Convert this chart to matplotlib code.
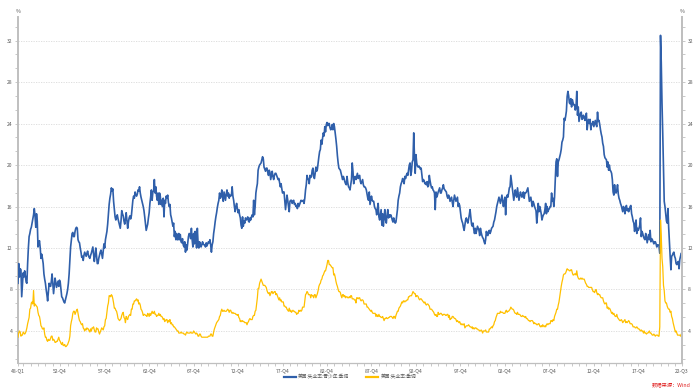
import numpy as np
import matplotlib
matplotlib.use("Agg")
import matplotlib.pyplot as plt
from matplotlib.ticker import MultipleLocator, FixedLocator
from matplotlib.lines import Line2D

plt.rcParams['font.family'] = ['Noto Sans CJK SC', 'DejaVu Sans']

# monthly data, 1948-01 .. 2022-09
start_year = 1948
series_names = ['美国:失业率:青少年:季调', '美国:失业率:季调']

teen_rate = [
    8.6, 10.5, 9.2, 10.0, 9.9, 7.3, 8.4, 9.6, 9.2, 9.8, 9.3, 8.7,          # 1948
    8.6, 10.5, 12.0, 13.1, 13.4, 13.8, 14.0, 14.4, 14.8, 15.2, 15.8, 15.1,  # 1949
    14.0, 15.3, 14.6, 12.1, 12.5, 12.7, 12.0, 11.0, 11.4, 11.0, 10.5, 9.5,  # 1950
    9.0, 8.6, 8.0, 7.5, 6.9, 7.8, 8.6, 8.4, 8.3, 8.8, 9.5, 8.5,            # 1951
    7.6, 8.4, 9.1, 8.7, 8.2, 8.5, 8.8, 8.3, 8.9, 8.7, 8.0, 7.3,            # 1952
    7.2, 7.0, 6.8, 6.7, 7.0, 7.3, 7.6, 8.0, 8.6, 9.5, 10.8, 12.1,          # 1953
    12.8, 13.4, 13.5, 13.1, 13.1, 13.6, 13.9, 14.0, 13.9, 12.8, 12.6, 12.5, # 1954
    12.0, 11.6, 11.1, 11.2, 10.8, 11.3, 11.6, 11.4, 11.2, 11.5, 11.7, 11.3, # 1955
    11.1, 11.0, 11.3, 11.5, 11.8, 12.1, 11.4, 10.7, 11.3, 12.0, 11.2, 10.5, # 1956
    10.5, 11.0, 11.3, 11.6, 11.8, 11.4, 11.0, 11.7, 12.4, 12.0, 12.8, 13.2, # 1957
    13.6, 14.3, 15.3, 16.2, 16.8, 17.2, 17.8, 17.5, 17.7, 16.5, 15.7, 15.0, # 1958
    14.7, 15.0, 15.2, 14.8, 14.5, 14.2, 13.9, 14.6, 15.6, 15.3, 15.1, 14.6, # 1959
    14.3, 14.8, 15.4, 14.6, 13.9, 14.5, 14.9, 15.1, 14.8, 15.1, 15.9, 16.6, # 1960
    17.0, 16.8, 17.4, 17.1, 17.0, 17.2, 17.6, 17.5, 17.9, 17.3, 16.9, 16.6, # 1961
    16.3, 16.0, 15.6, 15.0, 14.3, 13.7, 14.0, 14.3, 14.9, 15.4, 16.3, 16.9, # 1962
    17.6, 16.6, 17.4, 17.5, 18.6, 17.3, 17.9, 17.0, 16.6, 17.3, 16.2, 17.3, # 1963
    17.0, 16.2, 16.6, 16.0, 16.8, 15.0, 16.6, 16.3, 17.0, 16.8, 17.1, 16.4, # 1964
    16.0, 16.2, 15.2, 14.9, 14.5, 14.1, 14.4, 13.1, 13.6, 12.8, 13.4, 12.8, # 1965
    12.8, 13.4, 12.8, 13.3, 12.6, 12.5, 12.9, 12.3, 12.1, 12.6, 11.6, 12.3, # 1966
    11.8, 12.5, 13.1, 13.4, 13.3, 12.9, 13.9, 12.8, 12.1, 13.4, 12.4, 13.6, # 1967
    12.9, 12.0, 13.9, 12.5, 12.0, 12.6, 12.4, 12.1, 12.3, 12.6, 12.4, 12.3, # 1968
    12.3, 12.1, 12.5, 12.2, 12.4, 12.6, 12.5, 12.8, 12.3, 11.6, 12.3, 12.6, # 1969
    13.4, 13.9, 14.5, 15.0, 15.4, 15.9, 16.3, 16.6, 17.3, 16.8, 17.0, 17.6, # 1970
    16.9, 16.5, 17.4, 17.0, 16.6, 17.2, 17.6, 17.0, 17.3, 16.8, 17.1, 17.0, # 1971
    17.1, 17.9, 17.0, 16.6, 16.0, 15.5, 16.0, 16.3, 15.8, 15.4, 15.7, 15.2, # 1972
    14.9, 14.2, 13.9, 15.0, 14.1, 14.6, 14.4, 14.9, 14.7, 14.8, 15.0, 14.6, # 1973
    14.5, 14.9, 14.7, 15.0, 15.2, 15.0, 16.6, 15.2, 16.0, 17.3, 17.8, 18.2, # 1974
    19.5, 19.8, 20.0, 20.1, 20.2, 20.5, 20.8, 20.6, 19.8, 19.6, 19.4, 19.7, # 1975
    19.7, 19.3, 19.0, 19.5, 19.3, 18.6, 19.0, 19.4, 18.9, 18.6, 19.0, 19.2, # 1976
    19.2, 19.0, 18.8, 18.6, 18.7, 18.3, 17.9, 18.2, 17.7, 17.3, 17.4, 17.4, # 1977
    16.6, 15.7, 16.4, 17.1, 16.6, 16.0, 15.5, 16.5, 16.6, 16.6, 16.3, 16.5, # 1978
    16.6, 16.2, 16.3, 16.0, 16.1, 15.8, 16.3, 16.0, 16.2, 16.4, 16.6, 16.5, # 1979
    16.5, 16.6, 16.3, 16.8, 17.6, 18.1, 19.0, 18.7, 18.6, 18.2, 19.0, 18.8, # 1980
    18.9, 19.5, 19.7, 18.9, 18.7, 19.2, 19.8, 19.4, 19.6, 20.2, 20.8, 21.3, # 1981
    21.5, 22.4, 22.0, 22.6, 23.1, 22.8, 23.7, 23.2, 23.9, 24.1, 23.8, 24.0, # 1982
    24.0, 23.6, 23.4, 23.5, 23.9, 23.4, 24.0, 23.7, 23.1, 22.5, 21.8, 20.9, # 1983
    20.2, 19.7, 19.6, 19.5, 19.2, 18.9, 18.6, 18.9, 18.7, 18.4, 18.2, 18.1, # 1984
    18.9, 18.3, 17.9, 17.8, 17.6, 18.1, 18.6, 20.2, 19.4, 18.2, 18.7, 18.9, # 1985
    18.6, 18.9, 19.2, 18.7, 18.9, 19.0, 18.4, 18.2, 18.4, 18.6, 18.1, 17.9, # 1986
    17.9, 17.8, 17.6, 17.2, 16.8, 16.6, 17.4, 16.2, 16.6, 17.0, 16.6, 16.5, # 1987
    16.5, 16.0, 15.8, 15.7, 15.2, 15.8, 16.3, 15.0, 14.7, 15.2, 15.7, 14.2, # 1988
    15.3, 14.1, 15.0, 15.7, 14.7, 14.4, 15.2, 15.7, 14.9, 15.2, 15.0, 15.2, # 1989
    15.0, 14.7, 14.5, 14.9, 14.6, 14.4, 14.5, 15.1, 15.7, 16.6, 17.0, 17.3, # 1990
    17.9, 18.2, 18.4, 18.7, 18.5, 18.2, 18.9, 18.7, 19.0, 19.2, 19.0, 19.5, # 1991
    20.0, 20.2, 19.0, 19.4, 20.3, 20.5, 23.1, 20.8, 19.2, 21.0, 20.2, 19.9, # 1992
    19.8, 19.9, 19.8, 19.6, 19.7, 19.0, 18.4, 18.6, 18.5, 18.2, 18.3, 18.1, # 1993
    18.4, 17.9, 18.0, 19.0, 18.5, 18.1, 17.8, 17.9, 17.6, 17.5, 17.3, 15.7, # 1994
    17.4, 16.9, 17.1, 17.4, 17.6, 17.8, 17.3, 17.3, 17.6, 17.8, 18.1, 17.7, # 1995
    17.6, 17.5, 17.4, 17.0, 16.8, 17.1, 16.9, 16.5, 16.7, 16.9, 16.4, 16.0, # 1996
    16.6, 17.1, 16.8, 16.5, 16.7, 16.9, 16.0, 16.3, 16.1, 15.5, 14.9, 14.6, # 1997
    14.4, 14.0, 13.7, 14.2, 14.7, 14.9, 14.6, 14.4, 14.8, 15.2, 15.7, 15.0, # 1998
    14.3, 14.1, 14.4, 13.8, 13.4, 13.9, 13.4, 13.7, 14.1, 13.9, 13.7, 13.2, # 1999
    13.9, 13.5, 13.2, 13.0, 12.9, 12.6, 12.4, 12.8, 13.6, 13.3, 13.2, 13.6, # 2000
    13.7, 13.4, 13.6, 13.9, 14.0, 14.1, 14.5, 14.7, 15.1, 15.5, 16.0, 16.3, # 2001
    16.6, 16.9, 16.6, 16.3, 16.7, 17.1, 16.5, 16.0, 16.5, 16.9, 15.2, 16.8, # 2002
    17.1, 16.9, 17.3, 17.8, 17.9, 19.0, 18.4, 17.8, 17.2, 16.6, 17.1, 17.6, # 2003
    17.1, 16.9, 17.8, 17.2, 16.6, 17.0, 17.4, 17.1, 16.9, 17.2, 17.4, 16.8, # 2004
    17.3, 17.3, 17.4, 17.6, 17.8, 17.1, 16.5, 16.7, 16.9, 16.4, 16.0, 16.5, # 2005
    16.3, 16.0, 15.8, 15.6, 14.4, 15.2, 16.3, 15.5, 16.0, 15.7, 15.3, 14.7, # 2006
    15.0, 15.2, 15.3, 15.7, 16.3, 15.3, 16.0, 15.5, 15.7, 15.8, 16.0, 16.0, # 2007
    17.3, 16.5, 16.8, 16.0, 16.9, 18.6, 20.3, 20.6, 18.9, 20.3, 20.5, 20.8, # 2008
    21.1, 21.5, 22.2, 22.4, 22.7, 24.5, 24.3, 24.7, 25.2, 26.6, 27.1, 26.7, # 2009
    26.0, 25.9, 26.4, 25.6, 26.3, 26.0, 25.8, 25.8, 25.3, 25.6, 27.1, 24.8, # 2010
    25.6, 24.2, 24.6, 25.0, 25.1, 24.4, 24.5, 24.8, 24.6, 24.3, 24.7, 25.0, # 2011
    23.4, 24.1, 24.4, 24.0, 24.4, 23.4, 24.0, 23.9, 24.2, 23.7, 24.0, 24.3, # 2012
    23.9, 23.7, 25.1, 24.2, 24.3, 23.9, 23.4, 23.0, 22.7, 22.1, 21.8, 21.0, # 2013
    20.7, 20.6, 20.5, 19.8, 20.3, 19.5, 20.0, 19.5, 19.4, 19.2, 18.6, 17.4, # 2014
    17.1, 18.1, 17.4, 17.3, 17.6, 18.1, 17.2, 16.8, 16.6, 16.3, 16.1, 15.8, # 2015
    15.5, 16.0, 15.8, 15.3, 15.9, 16.1, 15.6, 15.8, 15.5, 15.7, 16.0, 16.1, # 2016
    15.3, 15.0, 14.6, 14.4, 13.6, 14.2, 14.7, 13.4, 13.9, 13.7, 13.9, 14.2, # 2017
    14.9, 13.1, 13.6, 13.4, 13.1, 12.9, 12.8, 13.4, 13.1, 12.5, 12.9, 13.3, # 2018
    12.8, 13.7, 12.6, 12.9, 12.8, 12.6, 12.4, 12.6, 12.6, 12.4, 12.1, 12.3, # 2019
    12.3, 12.2, 11.5, 32.5, 29.9, 26.0, 23.0, 19.5, 16.5, 16.0, 15.3, 14.6, # 2020
    14.4, 15.8, 14.0, 12.5, 11.2, 9.9, 11.2, 11.3, 11.5, 11.6, 11.2, 11.0,  # 2021
    10.5, 10.4, 10.6, 10.7, 10.0, 10.9, 11.2, 11.5, 11.4,                   # 2022
]

total_rate = [
    3.4, 3.8, 4.0, 3.9, 3.5, 3.6, 3.6, 3.9, 3.8, 3.7, 3.8, 4.0,            # 1948
    4.3, 4.7, 5.0, 5.3, 6.1, 6.2, 6.7, 6.8, 6.6, 7.9, 6.4, 6.6,            # 1949
    6.5, 6.4, 6.3, 5.8, 5.5, 5.4, 5.0, 4.5, 4.4, 4.2, 4.2, 4.3,            # 1950
    3.7, 3.4, 3.4, 3.1, 3.0, 3.2, 3.1, 3.1, 3.3, 3.5, 3.5, 3.1,            # 1951
    3.2, 3.1, 2.9, 2.9, 3.0, 3.0, 3.2, 3.4, 3.1, 3.0, 2.8, 2.7,            # 1952
    2.9, 2.6, 2.6, 2.7, 2.5, 2.5, 2.6, 2.7, 2.9, 3.1, 3.5, 4.5,            # 1953
    4.9, 5.2, 5.7, 5.9, 5.9, 5.6, 5.8, 6.0, 6.1, 5.7, 5.3, 5.0,            # 1954
    4.9, 4.7, 4.6, 4.7, 4.3, 4.2, 4.0, 4.2, 4.1, 4.3, 4.2, 4.2,            # 1955
    4.0, 3.9, 4.2, 4.0, 4.3, 4.3, 4.4, 4.1, 3.9, 3.9, 4.3, 4.2,            # 1956
    4.2, 3.9, 3.7, 3.9, 4.1, 4.3, 4.2, 4.1, 4.4, 4.5, 5.1, 5.2,            # 1957
    5.8, 6.4, 6.7, 7.4, 7.4, 7.3, 7.5, 7.4, 7.1, 6.7, 6.2, 6.2,            # 1958
    6.0, 5.9, 5.6, 5.2, 5.1, 5.0, 5.1, 5.2, 5.5, 5.7, 5.8, 5.3,            # 1959
    5.2, 4.8, 5.4, 5.2, 5.1, 5.4, 5.5, 5.6, 5.5, 6.1, 6.1, 6.6,            # 1960
    6.6, 6.9, 6.9, 7.0, 7.1, 6.9, 7.0, 6.6, 6.7, 6.5, 6.1, 6.0,            # 1961
    5.8, 5.5, 5.6, 5.6, 5.5, 5.5, 5.4, 5.7, 5.6, 5.4, 5.7, 5.5,            # 1962
    5.7, 5.9, 5.7, 5.7, 5.9, 5.6, 5.6, 5.4, 5.5, 5.5, 5.7, 5.5,            # 1963
    5.6, 5.4, 5.4, 5.3, 5.1, 5.2, 4.9, 5.0, 5.1, 5.1, 4.8, 5.0,            # 1964
    4.9, 5.1, 4.7, 4.8, 4.6, 4.6, 4.4, 4.4, 4.3, 4.2, 4.1, 4.0,            # 1965
    4.0, 3.8, 3.8, 3.8, 3.9, 3.8, 3.8, 3.8, 3.7, 3.7, 3.6, 3.8,            # 1966
    3.9, 3.8, 3.8, 3.8, 3.8, 3.9, 3.8, 3.8, 3.8, 4.0, 3.9, 3.8,            # 1967
    3.7, 3.8, 3.7, 3.5, 3.5, 3.7, 3.7, 3.5, 3.4, 3.4, 3.4, 3.4,            # 1968
    3.4, 3.4, 3.4, 3.4, 3.4, 3.5, 3.5, 3.5, 3.7, 3.7, 3.5, 3.5,            # 1969
    3.9, 4.2, 4.4, 4.6, 4.8, 4.9, 5.0, 5.1, 5.4, 5.5, 5.9, 6.1,            # 1970
    5.9, 5.9, 6.0, 5.9, 5.9, 5.9, 6.0, 6.1, 6.0, 5.8, 6.0, 6.0,            # 1971
    5.8, 5.7, 5.8, 5.7, 5.7, 5.7, 5.6, 5.6, 5.5, 5.6, 5.3, 5.2,            # 1972
    4.9, 5.0, 4.9, 5.0, 4.9, 4.9, 4.8, 4.8, 4.8, 4.6, 4.8, 4.9,            # 1973
    5.1, 5.2, 5.1, 5.1, 5.1, 5.4, 5.5, 5.5, 5.9, 6.0, 6.6, 7.2,            # 1974
    8.1, 8.1, 8.6, 8.8, 9.0, 8.8, 8.6, 8.4, 8.4, 8.4, 8.3, 8.2,            # 1975
    7.9, 7.7, 7.6, 7.7, 7.4, 7.6, 7.8, 7.8, 7.6, 7.7, 7.8, 7.8,            # 1976
    7.5, 7.6, 7.4, 7.2, 7.0, 7.2, 6.9, 7.0, 6.8, 6.8, 6.8, 6.4,            # 1977
    6.4, 6.3, 6.3, 6.1, 6.0, 5.9, 6.2, 5.9, 6.0, 5.8, 5.9, 6.0,            # 1978
    5.9, 5.9, 5.8, 5.8, 5.6, 5.7, 5.7, 6.0, 5.9, 6.0, 5.9, 6.0,            # 1979
    6.3, 6.3, 6.3, 6.9, 7.5, 7.6, 7.8, 7.7, 7.5, 7.5, 7.5, 7.2,            # 1980
    7.5, 7.4, 7.4, 7.2, 7.5, 7.5, 7.2, 7.4, 7.6, 7.9, 8.3, 8.5,            # 1981
    8.6, 8.9, 9.0, 9.3, 9.4, 9.6, 9.8, 9.8, 10.1, 10.4, 10.8, 10.8,        # 1982
    10.4, 10.4, 10.3, 10.2, 10.1, 10.1, 9.4, 9.5, 9.2, 8.8, 8.5, 8.3,      # 1983
    8.0, 7.8, 7.8, 7.7, 7.4, 7.2, 7.5, 7.5, 7.3, 7.4, 7.2, 7.3,            # 1984
    7.3, 7.2, 7.2, 7.3, 7.2, 7.4, 7.4, 7.1, 7.1, 7.1, 7.0, 7.0,            # 1985
    6.7, 7.2, 7.2, 7.1, 7.2, 7.2, 7.0, 6.9, 7.0, 7.0, 6.9, 6.6,            # 1986
    6.6, 6.6, 6.6, 6.3, 6.3, 6.2, 6.1, 6.0, 5.9, 6.0, 5.8, 5.7,            # 1987
    5.7, 5.7, 5.7, 5.4, 5.6, 5.4, 5.4, 5.6, 5.4, 5.4, 5.3, 5.3,            # 1988
    5.4, 5.2, 5.0, 5.2, 5.2, 5.3, 5.2, 5.2, 5.3, 5.3, 5.4, 5.4,            # 1989
    5.4, 5.3, 5.2, 5.4, 5.4, 5.2, 5.5, 5.7, 5.9, 5.9, 6.2, 6.3,            # 1990
    6.4, 6.6, 6.8, 6.7, 6.9, 6.9, 6.8, 6.9, 6.9, 7.0, 7.0, 7.3,            # 1991
    7.3, 7.4, 7.4, 7.4, 7.6, 7.8, 7.7, 7.6, 7.6, 7.3, 7.4, 7.4,            # 1992
    7.3, 7.1, 7.0, 7.1, 7.1, 7.0, 6.9, 6.8, 6.7, 6.8, 6.6, 6.5,            # 1993
    6.6, 6.6, 6.5, 6.4, 6.1, 6.1, 6.1, 6.0, 5.9, 5.8, 5.6, 5.5,            # 1994
    5.6, 5.4, 5.4, 5.8, 5.6, 5.6, 5.7, 5.7, 5.6, 5.5, 5.6, 5.6,            # 1995
    5.6, 5.5, 5.5, 5.6, 5.6, 5.3, 5.5, 5.1, 5.2, 5.2, 5.4, 5.4,            # 1996
    5.3, 5.2, 5.2, 5.1, 4.9, 5.0, 4.9, 4.8, 4.9, 4.7, 4.6, 4.7,            # 1997
    4.6, 4.6, 4.7, 4.3, 4.4, 4.5, 4.5, 4.5, 4.6, 4.5, 4.4, 4.4,            # 1998
    4.3, 4.4, 4.2, 4.3, 4.2, 4.3, 4.3, 4.2, 4.2, 4.1, 4.1, 4.0,            # 1999
    4.0, 4.1, 4.0, 3.8, 4.0, 4.0, 4.0, 4.1, 3.9, 3.9, 3.9, 3.9,            # 2000
    4.2, 4.2, 4.3, 4.4, 4.3, 4.5, 4.6, 4.9, 5.0, 5.3, 5.5, 5.7,            # 2001
    5.7, 5.7, 5.7, 5.9, 5.8, 5.8, 5.8, 5.7, 5.7, 5.7, 5.9, 6.0,            # 2002
    5.8, 5.9, 5.9, 6.0, 6.1, 6.3, 6.2, 6.1, 6.1, 6.0, 5.8, 5.7,            # 2003
    5.7, 5.6, 5.8, 5.6, 5.6, 5.6, 5.5, 5.4, 5.4, 5.5, 5.4, 5.4,            # 2004
    5.3, 5.4, 5.2, 5.2, 5.1, 5.0, 5.0, 4.9, 5.0, 5.0, 5.0, 4.9,            # 2005
    4.7, 4.8, 4.7, 4.7, 4.6, 4.6, 4.7, 4.7, 4.5, 4.4, 4.5, 4.4,            # 2006
    4.6, 4.5, 4.4, 4.5, 4.4, 4.6, 4.7, 4.6, 4.7, 4.7, 4.7, 5.0,            # 2007
    5.0, 4.9, 5.1, 5.0, 5.4, 5.6, 5.8, 6.1, 6.1, 6.5, 6.8, 7.3,            # 2008
    7.8, 8.3, 8.7, 9.0, 9.4, 9.5, 9.5, 9.6, 9.8, 10.0, 9.9, 9.9,           # 2009
    9.8, 9.8, 9.9, 9.9, 9.6, 9.4, 9.4, 9.5, 9.5, 9.4, 9.8, 9.3,            # 2010
    9.1, 9.0, 9.0, 9.1, 9.0, 9.1, 9.0, 9.0, 9.0, 8.8, 8.6, 8.5,            # 2011
    8.3, 8.3, 8.2, 8.2, 8.2, 8.2, 8.2, 8.0, 7.8, 7.8, 7.7, 7.9,            # 2012
    8.0, 7.7, 7.5, 7.6, 7.5, 7.5, 7.3, 7.2, 7.2, 7.2, 6.9, 6.7,            # 2013
    6.6, 6.7, 6.7, 6.2, 6.3, 6.1, 6.2, 6.1, 5.9, 5.7, 5.8, 5.6,            # 2014
    5.7, 5.5, 5.4, 5.4, 5.6, 5.3, 5.2, 5.1, 5.0, 5.0, 5.1, 5.0,            # 2015
    4.8, 4.9, 5.0, 5.1, 4.8, 4.9, 4.8, 4.9, 5.0, 4.9, 4.7, 4.7,            # 2016
    4.7, 4.6, 4.4, 4.4, 4.4, 4.3, 4.3, 4.4, 4.3, 4.2, 4.2, 4.1,            # 2017
    4.0, 4.1, 4.0, 4.0, 3.8, 4.0, 3.8, 3.8, 3.7, 3.8, 3.8, 3.9,            # 2018
    4.0, 3.8, 3.8, 3.7, 3.6, 3.6, 3.7, 3.6, 3.5, 3.6, 3.6, 3.6,            # 2019
    3.5, 3.5, 4.4, 14.7, 13.2, 11.0, 10.2, 8.4, 7.9, 6.9, 6.7, 6.7,        # 2020
    6.4, 6.2, 6.1, 6.1, 5.8, 5.9, 5.4, 5.2, 4.8, 4.5, 4.2, 3.9,            # 2021
    4.0, 3.8, 3.6, 3.6, 3.6, 3.6, 3.5, 3.7, 3.5,                           # 2022
]

xtick_labels = ['48-Q1', '52-Q4', '57-Q4', '62-Q4', '67-Q4', '72-Q4', '77-Q4', '82-Q4',
                '87-Q4', '92-Q4', '97-Q4', '02-Q4', '07-Q4', '12-Q4', '17-Q4', '22-Q3']
yticks = [4, 8, 12, 16, 20, 24, 28, 32]


def label_to_month(lab):
    yy, q = lab.split('-Q')
    yy = int(yy)
    year = 1900 + yy if yy >= 48 else 2000 + yy
    return (year - start_year) * 12 + (int(q) - 1) * 3


n = len(total_rate)
x = np.arange(n)
xtick_pos = [min(label_to_month(l), n - 1) for l in xtick_labels]
xtick_pos[-1] = n - 1

blue = '#2F5FAA'
gold = '#FFC000'
axis_c = '#BFBFBF'
txt_c = '#595959'

fig = plt.figure(figsize=(7, 3.92), dpi=100)
ax = fig.add_axes([0.0257, 0.0747, 0.9486, 0.8819])

ax.plot(x[:len(teen_rate)], teen_rate, color=blue, lw=1.2, zorder=3)
ax.plot(x, total_rate, color=gold, lw=0.9, zorder=4)

ax.set_xlim(0, n - 1)
ax.set_ylim(0.94, 34.27)

ax.set_yticks(yticks)
ax.yaxis.set_minor_locator(FixedLocator([v for v in np.arange(0, 36, 4 / 3)
                                         if round(v, 3) % 4 != 0]))
ax.set_xticks(xtick_pos)
ax.set_xticklabels(xtick_labels)
ax.xaxis.set_minor_locator(MultipleLocator(10, offset=7))

ax.grid(axis='y', which='major', color='#D9D9D9', linestyle=(0, (1.5, 1.5)), lw=0.6)
ax.set_axisbelow(True)

for s in ['top']:
    ax.spines[s].set_visible(False)
for s in ['left', 'right']:
    ax.spines[s].set_color(axis_c)
    ax.spines[s].set_linewidth(1.4)
ax.spines['bottom'].set_color(axis_c)
ax.spines['bottom'].set_linewidth(0.9)

ax.tick_params(axis='both', which='both', colors=axis_c, labelcolor=txt_c,
               labelsize=3.6, width=0.6)
ax.tick_params(axis='both', which='major', length=2.5, pad=1.5)
ax.tick_params(axis='both', which='minor', length=2.0)

ax2 = ax.twinx()
ax2.set_ylim(ax.get_ylim())
ax2.set_yticks(yticks)
ax2.yaxis.set_minor_locator(FixedLocator([v for v in np.arange(0, 36, 4 / 3)
                                          if round(v, 3) % 4 != 0]))
for s in ['top', 'left', 'bottom']:
    ax2.spines[s].set_visible(False)
ax2.spines['right'].set_color(axis_c)
ax2.spines['right'].set_linewidth(1.4)
ax2.tick_params(axis='y', which='both', colors=axis_c, labelcolor=txt_c,
                labelsize=3.6, width=0.6)
ax2.tick_params(axis='y', which='major', length=2.5, pad=1.5)
ax2.tick_params(axis='y', which='minor', length=2.0)

fig.text(0.0257, 0.97, '%', ha='center', va='center', fontsize=3.8, color=txt_c)
fig.text(0.9743, 0.97, '%', ha='center', va='center', fontsize=3.8, color=txt_c)

handles = [Line2D([], [], color=blue, lw=1.6), Line2D([], [], color=gold, lw=1.6)]
fig.legend(handles, series_names, loc='center', bbox_to_anchor=(0.5, 0.038), ncol=2,
           frameon=False, fontsize=3.4, handlelength=2.6, columnspacing=3.5,
           handletextpad=0.5, labelcolor=txt_c)

fig.text(0.986, 0.018, '数据来源：Wind', ha='right', va='center', fontsize=3.8,
         color='#E02020')

fig.savefig('out.png', dpi=100)
